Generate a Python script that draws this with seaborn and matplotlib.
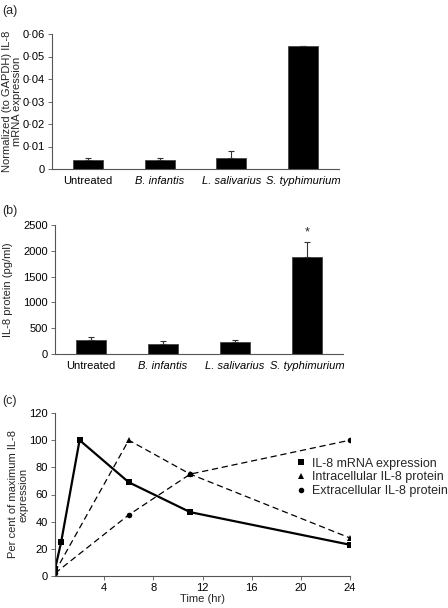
import matplotlib
matplotlib.use("Agg")
import matplotlib.pyplot as plt
import matplotlib.ticker as mticker
import pandas as pd
import seaborn as sns

# Panel (a) data: normalized IL-8 mRNA
groups = ["Untreated", "B. infantis", "L. salivarius", "S. typhimurium"]
mrna_mean = [0.004, 0.004, 0.005, 0.0545]
mrna_err = [0.001, 0.001, 0.003, 0.0]

# Panel (b) data: IL-8 protein (pg/ml)
prot_mean = [270, 190, 230, 1880]
prot_err = [60, 55, 50, 290]

# Panel (c) data: time course (% of maximum)
t_mrna = [0, 0.5, 2, 6, 11, 24]
y_mrna = [5, 25, 100, 69, 47, 23]
t_intra = [0, 6, 11, 24]
y_intra = [3, 100, 75, 28]
t_extra = [0, 6, 11, 24]
y_extra = [2, 45, 75, 100]

sns.set_style("ticks")
plt.rcParams["font.family"] = ["Liberation Sans", "DejaVu Sans"]
plt.rcParams["font.size"] = 8
plt.rcParams["axes.edgecolor"] = "#555555"
plt.rcParams["xtick.color"] = "#555555"
plt.rcParams["ytick.color"] = "#555555"
plt.rcParams["xtick.labelcolor"] = "black"
plt.rcParams["ytick.labelcolor"] = "black"

fig = plt.figure(figsize=(4.48, 6.08), dpi=100)
W, H = 448, 608


def add_ax(x0, y0, x1, y1):
    return fig.add_axes([x0 / W, 1 - y1 / H, (x1 - x0) / W, (y1 - y0) / H])


def bar_panel(ax, means, errs):
    df = pd.DataFrame({"group": groups, "value": means})
    sns.barplot(data=df, x="group", y="value", color="black", width=0.42,
                saturation=1, edgecolor="#444444", linewidth=0.6, ax=ax)
    ax.errorbar(range(len(groups)), means, yerr=[[0] * len(errs), errs],
                fmt="none", ecolor="#333333", elinewidth=0.8, capsize=2, capthick=0.8)
    ax.set_xlim(-0.5, 3.5)
    ax.set_xlabel("")
    ax.tick_params(axis="x", length=0, pad=5)
    ax.tick_params(axis="y", length=3, width=0.6, pad=2)
    for lab in ax.get_xticklabels():
        if lab.get_text() != "Untreated":
            lab.set_fontstyle("italic")
    sns.despine(ax=ax)
    for s in ["left", "bottom"]:
        ax.spines[s].set_linewidth(0.8)


# (a)
ax_a = add_ax(52, 34, 339, 169)
bar_panel(ax_a, mrna_mean, mrna_err)
ax_a.set_ylim(0, 0.06)
ax_a.set_yticks([0, 0.01, 0.02, 0.03, 0.04, 0.05, 0.06])
ax_a.yaxis.set_major_formatter(mticker.FuncFormatter(
    lambda v, p: "0" if v == 0 else f"{v:.2f}".replace(".", "\u00b7")))
ax_a.set_ylabel("Normalized (to GAPDH) IL-8\nmRNA expression", linespacing=1.0)
ax_a.yaxis.set_label_coords(-0.105, 0.5)
fig.text(2 / W, 1 - 11 / H, "(a)", fontsize=9, va="center")

# (b)
ax_b = add_ax(55, 225, 343, 354)
bar_panel(ax_b, prot_mean, prot_err)
ax_b.set_ylim(0, 2500)
ax_b.set_yticks(range(0, 2501, 500))
ax_b.set_ylabel("IL-8 protein (pg/ml)")
ax_b.yaxis.set_label_coords(-0.145, 0.5)
ax_b.text(3, prot_mean[3] + prot_err[3] + 60, "*", ha="center", va="bottom", fontsize=9)
fig.text(2 / W, 1 - 211 / H, "(b)", fontsize=9, va="center")

# (c)
ax_c = add_ax(55, 413, 350, 576)
sns.lineplot(x=t_mrna, y=y_mrna, ax=ax_c, color="black", linewidth=1.6,
             marker="s", markersize=4, markeredgewidth=0, label="IL-8 mRNA expression")
sns.lineplot(x=t_intra, y=y_intra, ax=ax_c, color="black", linewidth=0.9,
             linestyle=(0, (5, 3)), marker="^", markersize=4, markeredgewidth=0,
             label="Intracellular IL-8 protein")
sns.lineplot(x=t_extra, y=y_extra, ax=ax_c, color="black", linewidth=0.9,
             linestyle=(0, (5, 3)), marker="o", markersize=4, markeredgewidth=0,
             label="Extracellular IL-8 protein")
ax_c.set_xlim(0, 24)
ax_c.set_ylim(0, 120)
ax_c.set_xticks([4, 8, 12, 16, 20, 24])
ax_c.set_yticks(range(0, 121, 20))
ax_c.tick_params(length=3, width=0.6, pad=2)
ax_c.set_xlabel("Time (hr)")
ax_c.xaxis.set_label_coords(0.5, -0.11)
ax_c.set_ylabel("Per cent of maximum IL-8\nexpression", linespacing=1.05)
ax_c.yaxis.set_label_coords(-0.09, 0.5)
sns.despine(ax=ax_c)
for s in ["left", "bottom"]:
    ax_c.spines[s].set_linewidth(0.8)
leg = ax_c.legend(loc="center left", bbox_to_anchor=(0.82, 0.605), frameon=False,
                  handlelength=0.7, handletextpad=0.5, labelspacing=0.15, fontsize=9,
                  borderaxespad=0, borderpad=0)
for h in leg.legend_handles:
    h.set_linestyle("none")
fig.text(2 / W, 1 - 401 / H, "(c)", fontsize=9, va="center")

fig.savefig("out.png", dpi=100)
